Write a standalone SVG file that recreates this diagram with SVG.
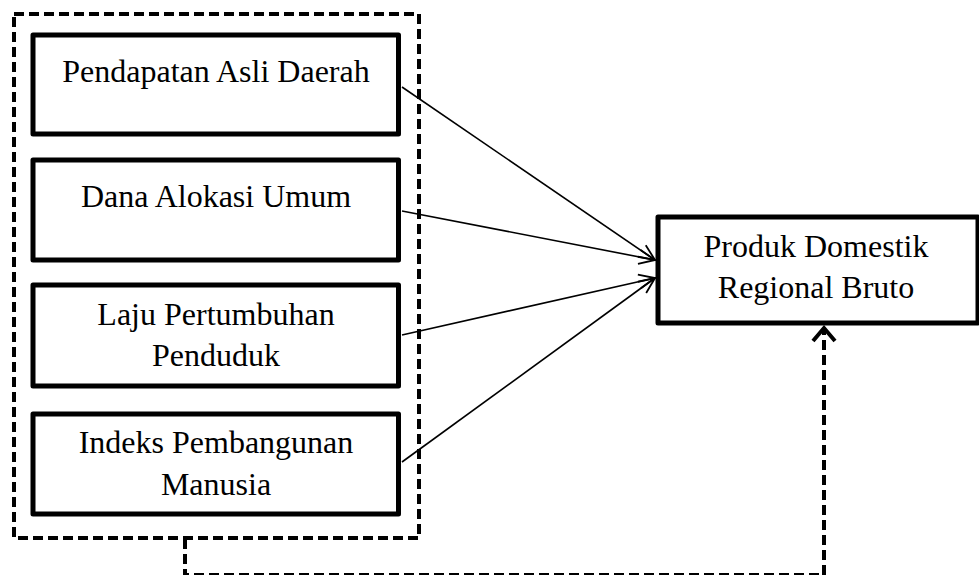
<svg xmlns="http://www.w3.org/2000/svg" width="979" height="575" viewBox="0 0 979 575">
<defs>
<style>
.box{fill:#fff;stroke:#000;stroke-width:5;stroke-linejoin:round}
.lbl{font-family:"Liberation Serif","Times New Roman",serif;font-size:32px;fill:#000;text-anchor:middle}
.dash{fill:none;stroke:#000;stroke-width:4;stroke-dasharray:10 5}
.arr{fill:none;stroke:#000;stroke-width:1.6}
</style>
<marker id="ah" markerUnits="userSpaceOnUse" markerWidth="20" markerHeight="20" viewBox="0 0 20 20" refX="18" refY="10" orient="auto">
<path d="M2,3 L18,10 L2,17" fill="none" stroke="#000" stroke-width="1.8"/>
</marker>
<marker id="ah2" markerUnits="userSpaceOnUse" markerWidth="28" markerHeight="28" viewBox="0 0 28 28" refX="24" refY="14" orient="auto">
<path d="M11,3 L24,14 L11,25" fill="none" stroke="#000" stroke-width="4"/>
</marker>
</defs>
<g id="group-frame">
<rect class="dash" x="14" y="14" width="405" height="524"/>
</g>
<g id="node-pad">
<rect class="box" x="33" y="35" width="365.5" height="99"/>
<text class="lbl" x="216" y="82">Pendapatan Asli Daerah</text>
</g>
<g id="node-dau">
<rect class="box" x="33" y="160" width="365.5" height="100"/>
<text class="lbl" x="216" y="207">Dana Alokasi Umum</text>
</g>
<g id="node-lpp">
<rect class="box" x="33" y="285" width="365.5" height="101"/>
<text class="lbl" x="216" y="325">Laju Pertumbuhan</text>
<text class="lbl" x="216" y="366">Penduduk</text>
</g>
<g id="node-ipm">
<rect class="box" x="33" y="414" width="365.5" height="100"/>
<text class="lbl" x="216" y="453">Indeks Pembangunan</text>
<text class="lbl" x="216" y="495">Manusia</text>
</g>
<g id="node-pdrb">
<rect class="box" x="658" y="217" width="320" height="106"/>
<text class="lbl" x="816" y="257">Produk Domestik</text>
<text class="lbl" x="816" y="298">Regional Bruto</text>
</g>
<g id="connectors">
<line class="arr" x1="402" y1="87" x2="655" y2="260" marker-end="url(#ah)"/>
<line class="arr" x1="402" y1="211" x2="655" y2="260" marker-end="url(#ah)"/>
<line class="arr" x1="402" y1="335" x2="655" y2="278" marker-end="url(#ah)"/>
<line class="arr" x1="402" y1="462" x2="655" y2="278" marker-end="url(#ah)"/>
<polyline class="dash" points="185,539 185,575 824,575 824,328" marker-end="url(#ah2)"/>
</g>
</svg>
